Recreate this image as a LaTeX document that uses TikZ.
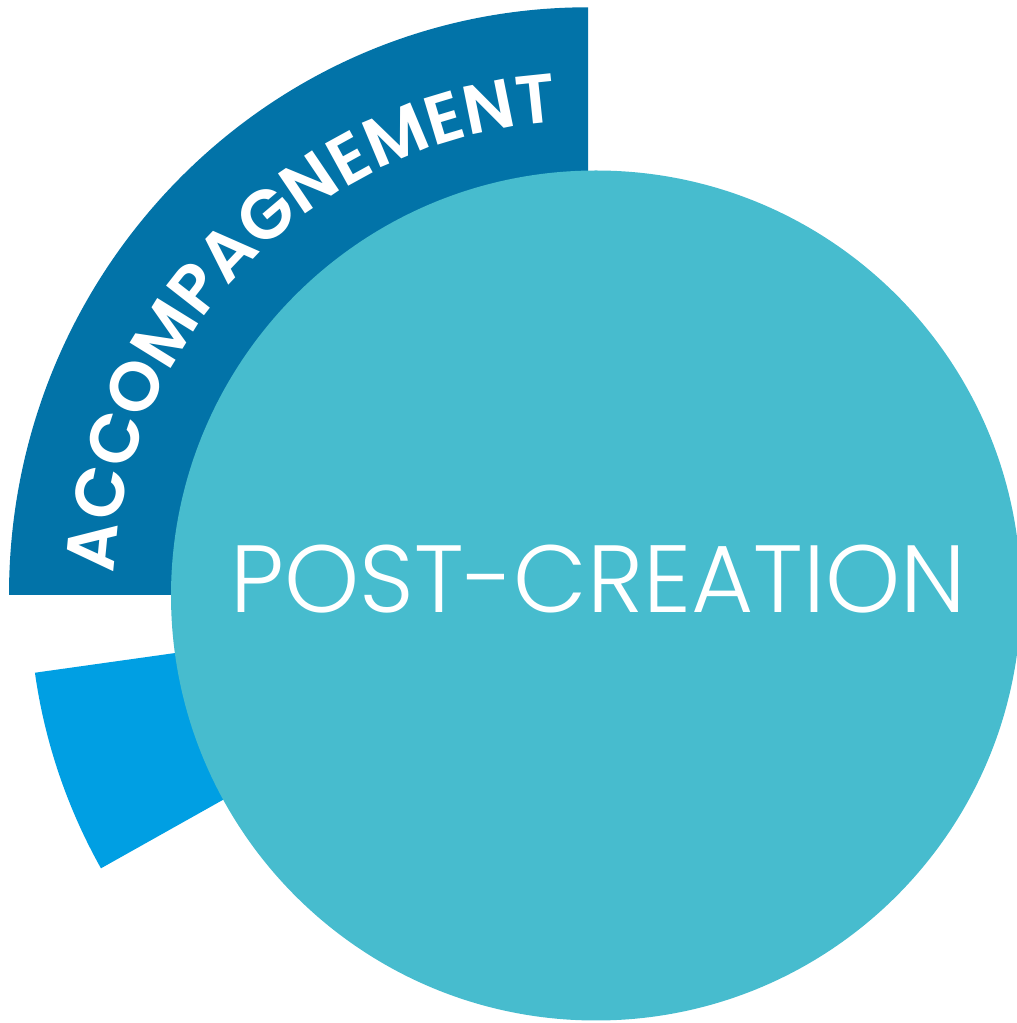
\documentclass[tikz,border=0pt]{standalone}
\usepackage{fontspec}
\setmainfont{Poppins}
\newfontfamily\poplight{Poppins Light}
\newfontfamily\popsemi{Poppins SemiBold}
\usetikzlibrary{decorations.text}
\definecolor{darkblue}{HTML}{0273A8}
\definecolor{mainteal}{HTML}{47BCCE}
\definecolor{lightblue}{HTML}{009FE3}
\begin{document}
\begin{tikzpicture}[x=1pt,y=1pt]
\useasboundingbox (0,0) rectangle (1017,1023);
\coordinate (c) at (588,428);
\coordinate (m) at (596,427.5);
\fill[darkblue] (c) -- ++(-579,0) arc[start angle=180,end angle=90,x radius=579,y radius=587.7] -- cycle;
\fill[lightblue] (c) -- ++(188:558.5) arc[start angle=188,end angle=209.3,radius=558.5] -- cycle;
\fill[mainteal] (m) circle[radius=425];
\node[anchor=base, text=white, font=\poplight\fontsize{95.5}{95.5}\selectfont, inner sep=0] (post) at (598.5,410.3) {POST-CREATION};
\path[decorate, decoration={text along path, text align=center, text color=white,
  text={|\popsemi\fontsize{69}{69}\selectfont|ACCOMPAGNEMENT}}]
  ([shift={(180.5:474)}]c) arc[start angle=180.5,end angle=90.5,radius=474];
\end{tikzpicture}
\end{document}
